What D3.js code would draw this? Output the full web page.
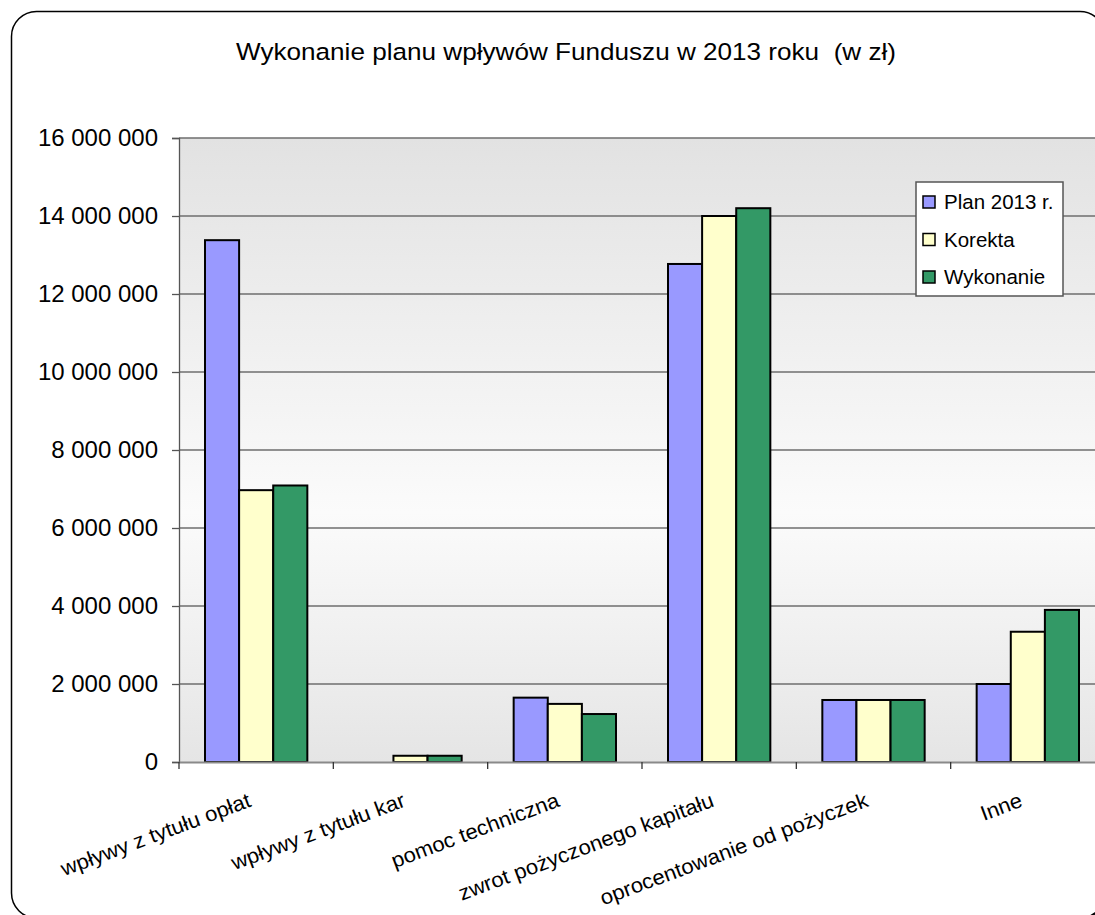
<!DOCTYPE html>
<html>
<head>
<meta charset="utf-8">
<script src="https://cdn.jsdelivr.net/npm/d3@7"></script>
<style>
  html, body { margin: 0; padding: 0; background: #fff; overflow: hidden; }
  text { font-family: "Liberation Sans", Arial, sans-serif; fill: #000; }
</style>
</head>
<body>
<div id="main"></div>
<script>
// data
var categories = ["wpływy z tytułu opłat", "wpływy z tytułu kar", "pomoc techniczna",
                  "zwrot pożyczonego kapitału", "oprocentowanie od pożyczek", "Inne"];
var seriesNames = ["Plan 2013 r.", "Korekta", "Wykonanie"];
var plan      = [13380000,      0, 1650000, 12770000, 1590000, 2000000];
var korekta   = [ 6970000, 160000, 1490000, 14000000, 1590000, 3340000];
var wykonanie = [ 7090000, 160000, 1230000, 14200000, 1590000, 3900000];
var yTicks = [0, 2000000, 4000000, 6000000, 8000000, 10000000, 12000000, 14000000, 16000000];
var title = "Wykonanie planu wpływów Funduszu w 2013 roku  (w zł)";

var colors = ["#9999ff", "#ffffcc", "#339966"];
var values = [plan, korekta, wykonanie];

// utils
function transform(x, y) {
  return "translate(" + x + "," + y + ")";
}

var W = 1095, H = 915;
var plot = { left: 179, top: 138, right: 1105, bottom: 762 };

var svg = d3.select("#main").append("svg")
    .attr("width", W).attr("height", H);

var defs = svg.append("defs");
var grad = defs.append("linearGradient").attr("id", "bg")
    .attr("x1", 0).attr("y1", 0).attr("x2", 0).attr("y2", 1);
grad.append("stop").attr("offset", "0%").attr("stop-color", "#e2e2e2");
grad.append("stop").attr("offset", "60%").attr("stop-color", "#fbfbfb");
grad.append("stop").attr("offset", "100%").attr("stop-color", "#e5e5e5");

// outer frame with a small shadow
svg.append("rect")
    .attr("x", 15.5).attr("y", 15.5).attr("width", 1093.5).attr("height", 906.5)
    .attr("rx", 25).attr("fill", "#222");
svg.append("rect")
    .attr("x", 11.5).attr("y", 11.5).attr("width", 1093.5).attr("height", 906.5)
    .attr("rx", 25).attr("fill", "#fff").attr("stroke", "#000").attr("stroke-width", 1.5);

// title (the original is drawn a bit wider than the font)
svg.append("text")
    .attr("x", 236).attr("y", 60)
    .attr("textLength", 660).attr("lengthAdjust", "spacingAndGlyphs")
    .style("font-size", "24.5px")
    .style("white-space", "pre")
    .text(title);

// scales
var x0 = d3.scaleBand().domain(categories).range([plot.left, plot.right]);
var x1 = d3.scaleBand().domain(seriesNames).range([26, x0.bandwidth() - 26]);
var y = d3.scaleLinear().domain([0, 16000000]).range([plot.bottom, plot.top]);

// plot area background
svg.append("rect")
    .attr("x", plot.left).attr("y", plot.top)
    .attr("width", plot.right - plot.left).attr("height", plot.bottom - plot.top)
    .attr("fill", "url(#bg)");

// gridlines
svg.append("g").selectAll("line").data(yTicks.slice(1))
  .enter().append("line")
    .attr("x1", plot.left).attr("x2", plot.right)
    .attr("y1", function(d) { return y(d); }).attr("y2", function(d) { return y(d); })
    .attr("stroke", "#6e6e6e").attr("stroke-width", 1.3);

// y axis
var locale = d3.formatLocale({ decimal: ",", thousands: " ", grouping: [3], currency: ["", " zł"] });
var yAxis = d3.axisLeft(y).tickValues(yTicks).tickFormat(locale.format(",d"))
    .tickSize(7).tickPadding(14);
var gy = svg.append("g").attr("transform", transform(plot.left, 0)).call(yAxis);
gy.select(".domain").attr("stroke", "#555").attr("stroke-width", 1.3);
gy.selectAll(".tick line").attr("stroke", "#555").attr("stroke-width", 1.3);
gy.selectAll(".tick text")
    .style("font-size", "24px")
    .style("font-family", '"Liberation Sans", Arial, sans-serif')
    .attr("fill", "#000")
    .attr("dy", "0.3em");

// bars
var groups = svg.append("g").selectAll("g").data(categories)
  .enter().append("g")
    .attr("transform", function(d) { return transform(x0(d), 0); });

groups.selectAll("rect")
    .data(function(d, i) {
      return seriesNames.map(function(s, k) { return { s: s, k: k, v: values[k][i] }; })
        .filter(function(e) { return e.v > 0; });
    })
  .enter().append("rect")
    .attr("x", function(e) { return x1(e.s); })
    .attr("y", function(e) { return y(e.v); })
    .attr("width", x1.bandwidth())
    .attr("height", function(e) { return y(0) - y(e.v); })
    .attr("fill", function(e) { return colors[e.k]; })
    .attr("stroke", "#000").attr("stroke-width", 2);

// x axis
var xAxis = d3.axisBottom(x0).tickSize(0).tickFormat("");
var gx = svg.append("g").attr("transform", transform(0, plot.bottom)).call(xAxis);
gx.select(".domain").attr("stroke", "#8a8a8a").attr("stroke-width", 2);
gx.append("g").selectAll("line").data(d3.range(categories.length + 1))
  .enter().append("line")
    .attr("x1", function(i) { return plot.left + i * x0.step(); })
    .attr("x2", function(i) { return plot.left + i * x0.step(); })
    .attr("y1", 0).attr("y2", 7)
    .attr("stroke", "#333").attr("stroke-width", 1.3);

// category labels: rotated, and a little wider than the font like the original
svg.append("g").selectAll("text").data(categories)
  .enter().append("text")
    .attr("transform", function(d) {
      return transform(x0(d) + x0.bandwidth() / 2 - 4, plot.bottom + 44) + " rotate(-20.5) scale(1.05,1)";
    })
    .attr("text-anchor", "end")
    .style("font-size", "21px")
    .text(function(d) { return d; });

// legend
var legend = svg.append("g").attr("transform", transform(916, 182));
legend.append("rect")
    .attr("width", 147).attr("height", 114)
    .attr("fill", "#fff").attr("stroke", "#555").attr("stroke-width", 1.5);
var items = legend.selectAll("g.item").data(seriesNames)
  .enter().append("g").attr("class", "item")
    .attr("transform", function(d, i) { return transform(0, 20 + i * 37.5); });
items.append("rect")
    .attr("x", 7).attr("y", -6).attr("width", 12).attr("height", 12)
    .attr("fill", function(d, i) { return colors[i]; })
    .attr("stroke", "#000").attr("stroke-width", 1.5);
items.append("text")
    .attr("x", 28).attr("dy", "0.35em")
    .style("font-size", "20.5px")
    .text(function(d) { return d; });
</script>
</body>
</html>
